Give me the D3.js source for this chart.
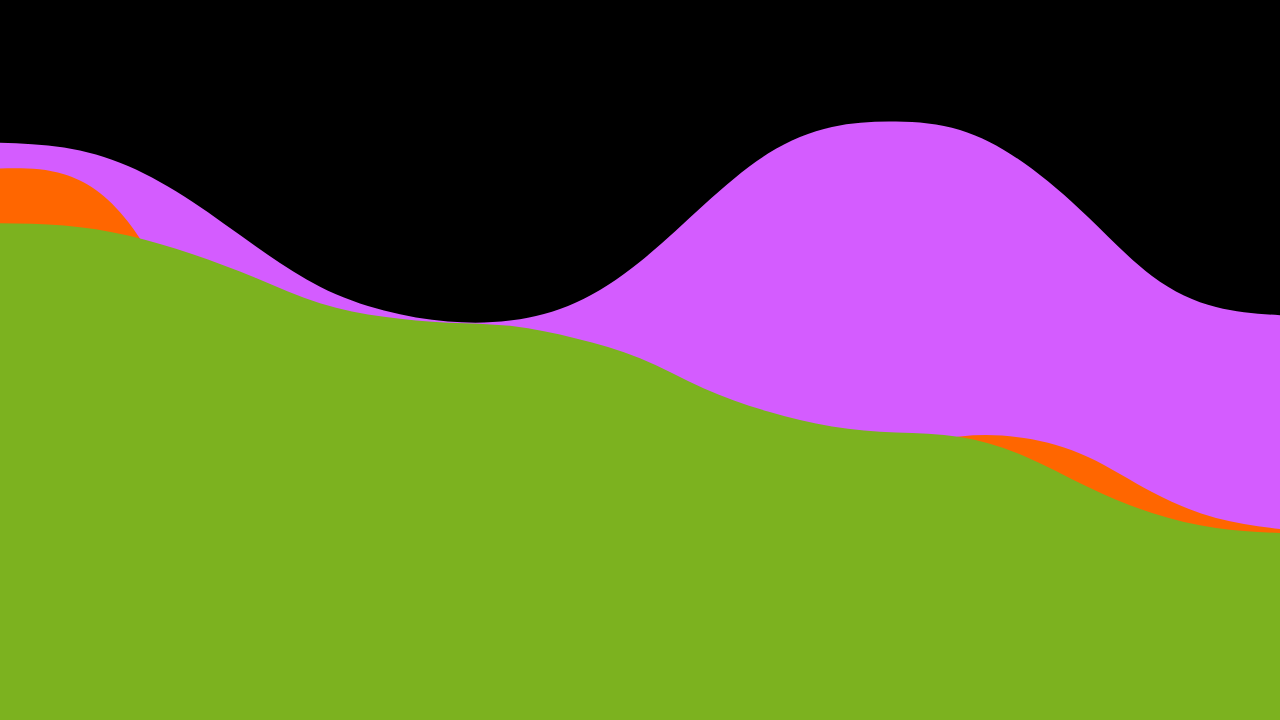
<!DOCTYPE html>
<html>
<head>
<meta charset="utf-8">
<script src="https://cdn.jsdelivr.net/npm/d3@7"></script>
<style>
  html, body { margin: 0; padding: 0; background: #000; overflow: hidden; }
  svg { display: block; }
</style>
</head>
<body>
<div id="chart"></div>
<script>
// x positions (evenly spaced steps across the width)
const steps = [0, 1, 2, 3, 4, 5, 6, 7, 8, 9, 10, 11, 12, 13, 14, 15, 16, 17, 18, 19, 20];

// series values (0-100 scale)
const purpleValues = [80.18, 79.51, 76.94, 72.01, 65.76, 60.18, 56.88, 55.35, 55.51, 57.99, 63.65,
                      71.57, 78.67, 82.36, 83.11, 81.94, 77.36, 69.86, 61.67, 57.36, 56.21];
const orangeValues = [76.6, 75.8, 69.2, 55.6, 47.9, 44.4, 43.1, 42.4, 41.7, 40.3, 38.9,
                      37.5, 36.8, 36.8, 37.8, 39.38, 39.17, 36.53, 31.67, 28.06, 26.53];
const greenValues  = [68.99, 68.68, 67.29, 64.72, 61.39, 57.88, 56.0, 55.19, 54.72, 52.99, 50.24,
                      46.05, 42.85, 40.76, 39.93, 39.31, 36.67, 32.36, 28.75, 26.67, 25.97];

const seriesList = [
  { name: "purple", values: purpleValues, color: "#d45cff" },
  { name: "orange", values: orangeValues, color: "#ff6600" },
  { name: "green",  values: greenValues,  color: "#7cb21f" }
];

const width = 1280;
const height = 720;

const svg = d3.select("#chart").append("svg")
  .attr("width", width)
  .attr("height", height);

svg.append("rect")
  .attr("width", width)
  .attr("height", height)
  .attr("fill", "#000");

const xScale = d3.scaleLinear()
  .domain([0, steps.length - 1])
  .range([0, width]);

const yScale = d3.scaleLinear()
  .domain([0, 100])
  .range([height, 0]);

const area = d3.area()
  .x(d => xScale(d.x))
  .y0(yScale(0))
  .y1(d => yScale(d.v))
  .curve(d3.curveNatural);

// layered areas, each from the baseline; later ones paint over earlier ones
svg.selectAll(".layer")
  .data(seriesList)
  .enter()
  .append("path")
  .attr("class", "layer")
  .attr("fill", d => d.color)
  .attr("d", d => area(steps.map((x, i) => ({ x: x, v: d.values[i] }))));
</script>
</body>
</html>
